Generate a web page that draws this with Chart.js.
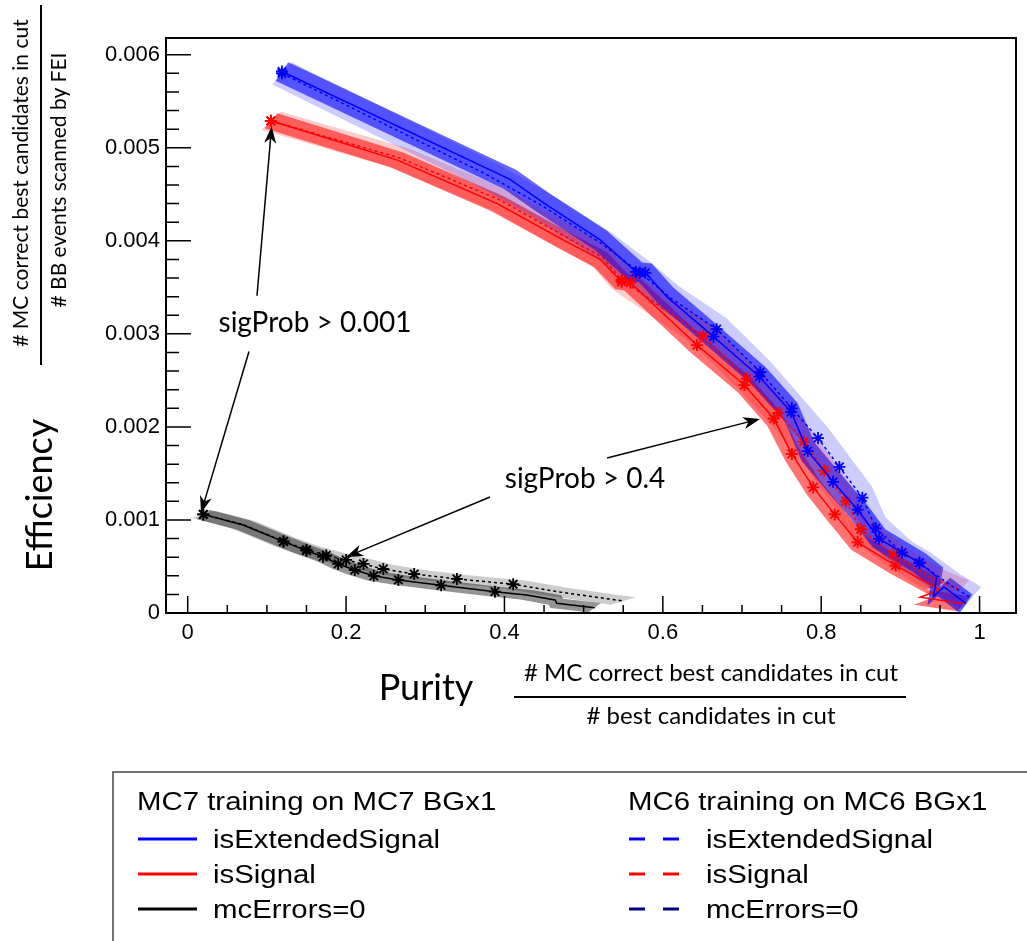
<!DOCTYPE html>
<html>
<head>
<meta charset="utf-8">
<script src="https://cdn.jsdelivr.net/npm/chart.js@4.4.1/dist/chart.umd.min.js"></script>
<style>
  html, body { margin: 0; padding: 0; background: #fff; }
  #wrap { width: 1027px; height: 941px; position: relative; }
</style>
</head>
<body>
<div id="wrap"><canvas id="effChart" width="1027" height="941"></canvas></div>
<script>
// purity (x) / efficiency (y)
const mc7ExtPurity = [0.119, 0.407, 0.449, 0.521, 0.566, 0.578, 0.605, 0.664, 0.722, 0.762, 0.783, 0.815, 0.846, 0.873, 0.924, 0.946, 0.942, 0.955, 0.983];
const mc7ExtEff = [0.00582, 0.00466, 0.00441, 0.00401, 0.003667, 0.003656, 0.0034, 0.00297, 0.00254, 0.00216, 0.00174, 0.00141, 0.00111, 0.0008, 0.00054, 0.00039, 0.00018, 0.00028, 0.0001];
const mc7ExtStars = [0, 4, 5, 7, 8, 9, 10, 11, 12, 13, 14];

const mc6ExtPurity = [0.119, 0.378, 0.445, 0.521, 0.571, 0.609, 0.668, 0.723, 0.763, 0.796, 0.823, 0.852, 0.869, 0.902, 0.924, 0.963, 0.99];
const mc6ExtEff = [0.0058, 0.00471, 0.00439, 0.00398, 0.00366, 0.00339, 0.00305, 0.00259, 0.0022, 0.00188, 0.00157, 0.00124, 0.00091, 0.00065, 0.00054, 0.0003, 0.00016];
const mc6ExtStars = [0, 4, 6, 7, 8, 9, 10, 11, 12, 13, 14];

const mc7SigPurity = [0.105, 0.264, 0.391, 0.474, 0.521, 0.548, 0.559, 0.643, 0.703, 0.74, 0.763, 0.79, 0.817, 0.846, 0.894, 0.95, 0.925, 0.98];
const mc7SigEff = [0.00529, 0.00487, 0.0044, 0.00401, 0.0038, 0.00356, 0.00355, 0.00288, 0.00245, 0.00209, 0.00171, 0.00135, 0.00106, 0.00076, 0.00051, 0.00025, 0.00017, 0.0001];
const mc7SigStars = [0, 5, 6, 7, 8, 9, 10, 11, 12, 13, 14];

const mc6SigPurity = [0.105, 0.268, 0.394, 0.476, 0.524, 0.548, 0.651, 0.706, 0.746, 0.778, 0.804, 0.831, 0.85, 0.891, 0.938, 0.975];
const mc6SigEff = [0.00529, 0.00489, 0.00444, 0.00405, 0.00382, 0.00358, 0.00298, 0.00252, 0.00215, 0.00184, 0.00153, 0.0012, 0.0009, 0.00063, 0.00038, 0.00025];
const mc6SigStars = [0, 5, 6, 7, 8, 9, 10, 11, 12, 13];

const mc7ErrPurity = [0.0197, 0.07, 0.121, 0.15, 0.171, 0.19, 0.211, 0.235, 0.266, 0.32, 0.388, 0.428, 0.464, 0.466, 0.514];
const mc7ErrEff = [0.00106, 0.000946, 0.000767, 0.00067, 0.000605, 0.000527, 0.000462, 0.0004, 0.000355, 0.000297, 0.000229, 0.000194, 0.00014, 0.000104, 0.000057];
const mc7ErrStars = [0, 2, 3, 4, 5, 6, 7, 8, 9, 10];

const mc6ErrPurity = [0.0197, 0.07, 0.121, 0.15, 0.175, 0.2, 0.222, 0.247, 0.286, 0.34, 0.411, 0.466, 0.55];
const mc6ErrEff = [0.00106, 0.00095, 0.00077, 0.00068, 0.00062, 0.00057, 0.000527, 0.000473, 0.000419, 0.000366, 0.000309, 0.00023, 0.000129];
const mc6ErrStars = [0, 2, 3, 4, 5, 6, 7, 8, 9, 10];

// band half widths [purity, efficiency]
const mc7ExtBand = [0.008, 0.0001];
const mc6ExtBand = [0.012, 0.00012];
const mc7SigBand = [0.008, 0.00008];
const mc6SigBand = [0.012, 0.0001];
const mc7ErrBand = [0.008, 0.00005];
const mc6ErrBand = [0.015, 0.00004];

const xTickStep = 0.2;
const yTickStep = 0.001;

const sansFont = "'Liberation Sans', Arial, sans-serif";
const titleFont = "Lato, 'Open Sans', sans-serif";

function points(px, py) {
  return px.map((x, i) => ({ x: x, y: py[i] }));
}

function bandPoints(px, py, band) {
  const upper = px.map((x, i) => ({ x: x + band[0], y: py[i] + band[1] }));
  const lower = px.map((x, i) => ({ x: x - band[0], y: py[i] - band[1] })).reverse();
  return upper.concat(lower);
}

function makeBand(px, py, band, color) {
  return {
    data: bandPoints(px, py, band),
    showLine: true,
    fill: "shape",
    backgroundColor: color,
    borderWidth: 0,
    pointRadius: 0,
    order: 10,
  };
}

function makeLine(px, py, stars, color, dashed) {
  return {
    data: points(px, py),
    showLine: true,
    fill: false,
    borderColor: color,
    borderWidth: 1.5,
    borderDash: dashed ? [3, 3] : [],
    pointStyle: "star",
    pointRadius: px.map((x, i) => (stars.includes(i) ? 6 : 0)),
    pointBorderColor: color,
    pointBackgroundColor: color,
    pointBorderWidth: 1.8,
    order: dashed ? 2 : 1,
  };
}

const datasets = [
  makeBand(mc6ExtPurity, mc6ExtEff, mc6ExtBand, "rgba(0,0,255,0.2)"),
  makeBand(mc6SigPurity, mc6SigEff, mc6SigBand, "rgba(255,0,0,0.2)"),
  makeBand(mc6ErrPurity, mc6ErrEff, mc6ErrBand, "rgba(0,0,0,0.2)"),
  makeBand(mc7ExtPurity, mc7ExtEff, mc7ExtBand, "rgba(0,0,255,0.6)"),
  makeBand(mc7SigPurity, mc7SigEff, mc7SigBand, "rgba(255,0,0,0.55)"),
  makeBand(mc7ErrPurity, mc7ErrEff, mc7ErrBand, "rgba(0,0,0,0.42)"),
  makeLine(mc6ExtPurity, mc6ExtEff, mc6ExtStars, "#0000ff", true),
  makeLine(mc6SigPurity, mc6SigEff, mc6SigStars, "#ff0000", true),
  makeLine(mc6ErrPurity, mc6ErrEff, mc6ErrStars, "#000000", true),
  makeLine(mc7ExtPurity, mc7ExtEff, mc7ExtStars, "#0000ff", false),
  makeLine(mc7SigPurity, mc7SigEff, mc7SigStars, "#ff0000", false),
  makeLine(mc7ErrPurity, mc7ErrEff, mc7ErrStars, "#000000", false),
];

// arrows, in data coords: [fromX, fromY, toX, toY]
const arrows = [
  [0.0875, 0.00341, 0.106, 0.00523],
  [0.0774, 0.00281, 0.0168, 0.001075],
  [0.5296, 0.001667, 0.7228, 0.002086],
  [0.3818, 0.001247, 0.2, 0.000602],
];

function wideText(ctx, text, x, y, sx) {
  ctx.save();
  ctx.translate(x, y);
  ctx.scale(sx, 1);
  ctx.fillText(text, 0, 0);
  ctx.restore();
}

function drawArrow(ctx, x0, y0, x1, y1) {
  const ang = Math.atan2(y1 - y0, x1 - x0);
  const len = 17, half = 6;
  ctx.beginPath();
  ctx.moveTo(x0, y0);
  ctx.lineTo(x1 - Math.cos(ang) * 10, y1 - Math.sin(ang) * 10);
  ctx.stroke();
  ctx.save();
  ctx.translate(x1, y1);
  ctx.rotate(ang);
  ctx.beginPath();
  ctx.moveTo(0, 0);
  ctx.lineTo(-len, -half);
  ctx.lineTo(-len + 5, 0);
  ctx.lineTo(-len, half);
  ctx.closePath();
  ctx.fill();
  ctx.restore();
}

const decor = {
  id: "decor",
  afterDraw(chart) {
    const { ctx, chartArea: a } = chart;
    const xs = chart.scales.x, ys = chart.scales.y;
    ctx.save();
    ctx.strokeStyle = "#000";
    ctx.fillStyle = "#000";

    // frame
    ctx.lineWidth = 2;
    ctx.strokeRect(a.left, a.top, a.right - a.left, a.bottom - a.top);

    // ticks inside the frame
    ctx.lineWidth = 1.5;
    ctx.beginPath();
    const xMinor = xTickStep / 4;
    for (let k = Math.ceil(xs.min / xMinor); k * xMinor <= xs.max; k++) {
      const px = xs.getPixelForValue(k * xMinor);
      const major = k % 4 === 0;
      ctx.moveTo(px, a.bottom);
      ctx.lineTo(px, a.bottom - (major ? 17 : 8));
    }
    const yMinor = yTickStep / 5;
    for (let k = Math.ceil(ys.min / yMinor + 1e-6); k * yMinor <= ys.max; k++) {
      const py = ys.getPixelForValue(k * yMinor);
      const major = k % 5 === 0;
      ctx.moveTo(a.left, py);
      ctx.lineTo(a.left + (major ? 25 : 13), py);
    }
    ctx.stroke();

    // annotations
    ctx.lineWidth = 1.5;
    arrows.forEach((r) => {
      drawArrow(ctx, xs.getPixelForValue(r[0]), ys.getPixelForValue(r[1]),
        xs.getPixelForValue(r[2]), ys.getPixelForValue(r[3]));
    });
    ctx.font = "28px " + titleFont;
    ctx.textAlign = "center";
    ctx.textBaseline = "middle";
    ctx.fillText("sigProb > 0.001", 315, 323);
    ctx.fillText("sigProb > 0.4", 585, 479);

    // y title
    ctx.save();
    ctx.translate(40, 495);
    ctx.rotate(-Math.PI / 2);
    ctx.font = "36px " + titleFont;
    ctx.fillText("Efficiency", 0, 0);
    ctx.restore();
    ctx.save();
    ctx.translate(21, 183);
    ctx.rotate(-Math.PI / 2);
    ctx.font = "21px " + titleFont;
    ctx.fillText("# MC correct best candidates in cut", 0, 0);
    ctx.restore();
    ctx.save();
    ctx.translate(59, 180);
    ctx.rotate(-Math.PI / 2);
    ctx.font = "21px " + titleFont;
    ctx.fillText("# BB events scanned by FEI", 0, 0);
    ctx.restore();
    ctx.lineWidth = 2;
    ctx.beginPath();
    ctx.moveTo(41, 5);
    ctx.lineTo(41, 365);
    ctx.stroke();

    // x title
    ctx.font = "36px " + titleFont;
    ctx.fillText("Purity", 426, 688);
    ctx.font = "24px " + titleFont;
    ctx.fillText("# MC correct best candidates in cut", 711, 673);
    ctx.fillText("# best candidates in cut", 711, 716);
    ctx.beginPath();
    ctx.moveTo(514, 697);
    ctx.lineTo(906, 697);
    ctx.stroke();

    // legend box
    ctx.strokeStyle = "#444";
    ctx.lineWidth = 1.5;
    ctx.strokeRect(113, 772, 1000, 300);
    ctx.textAlign = "left";
    ctx.textBaseline = "alphabetic";
    ctx.font = "26px " + sansFont;
    const sx = 1.13;
    wideText(ctx, "MC7 training on MC7 BGx1", 137, 810, sx);
    wideText(ctx, "MC6 training on MC6 BGx1", 628, 810, sx);
    const rows = [
      ["isExtendedSignal", "#0000ff", "#0000ff"],
      ["isSignal", "#ff0000", "#ff0000"],
      ["mcErrors=0", "#000000", "#000080"],
    ];
    rows.forEach((r, i) => {
      const base = 848 + i * 35;
      ctx.lineWidth = 3;
      ctx.strokeStyle = r[1];
      ctx.setLineDash([]);
      ctx.beginPath();
      ctx.moveTo(138, base - 9);
      ctx.lineTo(197, base - 9);
      ctx.stroke();
      ctx.strokeStyle = r[2];
      ctx.setLineDash([16, 18]);
      ctx.beginPath();
      ctx.moveTo(629, base - 9);
      ctx.lineTo(681, base - 9);
      ctx.stroke();
      ctx.setLineDash([]);
      wideText(ctx, r[0], 213, base, sx);
      wideText(ctx, r[0], 706, base, sx);
    });
    ctx.restore();
  },
};

const config = {
  type: "scatter",
  data: { datasets: datasets },
  options: {
    responsive: false,
    animation: false,
    layout: { padding: { left: 0, top: 38, right: 11, bottom: 288 } },
    plugins: {
      legend: { display: false },
      tooltip: { enabled: false },
    },
    scales: {
      x: {
        type: "linear",
        min: -0.0274,
        max: 1.046,
        afterFit: (s) => { s.height = 40; },
        grid: { display: false, drawTicks: false },
        border: { display: false },
        ticks: {
          stepSize: xTickStep,
          includeBounds: false,
          padding: 7,
          color: "#000",
          font: { family: sansFont, size: 22 },
          callback: (v) => String(Number(v.toFixed(2))),
        },
      },
      y: {
        type: "linear",
        min: 0,
        max: 0.00618,
        afterFit: (s) => { s.width = 166; },
        grid: { display: false, drawTicks: false },
        border: { display: false },
        ticks: {
          stepSize: yTickStep,
          includeBounds: false,
          padding: 6,
          color: "#000",
          font: { family: sansFont, size: 22 },
          callback: (v) => (v === 0 ? "0" : v.toFixed(3)),
        },
      },
    },
  },
  plugins: [decor],
};

var effChart = new Chart(document.getElementById("effChart"), config);
</script>
</body>
</html>
